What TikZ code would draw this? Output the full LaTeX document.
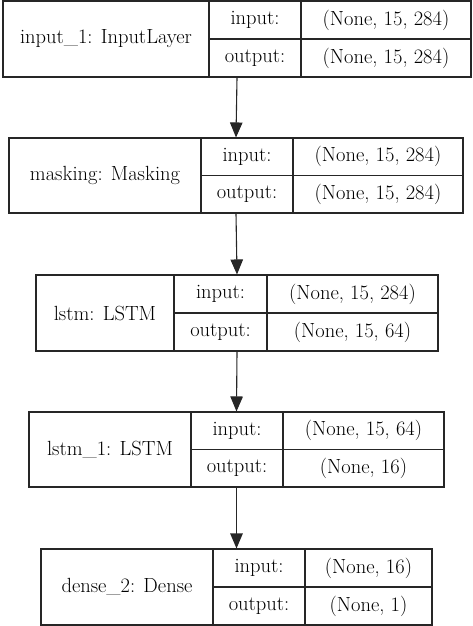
\documentclass[tikz,border=0pt]{standalone}
\usetikzlibrary{arrows.meta,fit}

% A Keras layer record: name | input:/output: | shapes
% #1 id, #2 left, #3 first divider, #4 second divider, #5 right,
% #6 top, #7 bottom, #8 layer label, #9 input shape; then {output shape}
\newcommand\keraslayer[9]{%
  \def\kid{#1}\def\kl{#2}\def\kda{#3}\def\kdb{#4}\def\kr{#5}%
  \def\kt{#6}\def\kb{#7}\def\klab{#8}\def\kin{#9}%
  \keraslayerfinish}
\newcommand\keraslayerfinish[1]{%
  \pgfmathsetmacro\km{(\kt+\kb)/2}%
  \coordinate (\kid-nw) at (\kl,\kt);
  \coordinate (\kid-se) at (\kr,\kb);
  \node[layerbox, fit=(\kid-nw)(\kid-se)] (\kid) {};
  \draw[cellline] (\kda,\kt) -- (\kda,\kb);
  \draw[cellline] (\kdb,\kt) -- (\kdb,\kb);
  \draw[cellline] (\kda,\km) -- (\kr,\km);
  \node[celltext] (\kid-label) at ({(\kl+\kda)/2},\km) {\klab};
  \node[celltext] (\kid-inkey) at ({(\kda+\kdb)/2},{(\kt+\km)/2}) {input:};
  \node[celltext] (\kid-outkey) at ({(\kda+\kdb)/2},{(\km+\kb)/2}) {output:};
  \node[celltext] (\kid-inval) at ({(\kdb+\kr)/2},{(\kt+\km)/2}) {\kin};
  \node[celltext] (\kid-outval) at ({(\kdb+\kr)/2},{(\km+\kb)/2}) {#1};
}

\begin{document}
\begin{tikzpicture}[x=1pt,y=-1pt,
  layerbox/.style={draw=black!85, line width=1.1pt, inner sep=0pt, fill=none},
  cellline/.style={draw=black!85, line width=1.1pt},
  celltext/.style={inner sep=0pt, font=\rmfamily\fontsize{20.5}{24}\selectfont},
  flow/.style={draw=black!85, line width=1.1pt,
    -{Triangle[length=15pt,width=12.5pt]}}]
\useasboundingbox (0,0) rectangle (472,626);

\keraslayer{l1}{3}{209}{301}{471}{1}{77}{input\_1: InputLayer}{(None, 15, 284)}{(None, 15, 284)}
\keraslayer{l2}{9}{201}{293}{463}{138}{213}{masking: Masking}{(None, 15, 284)}{(None, 15, 284)}
\keraslayer{l3}{36}{174}{267}{438}{275}{351}{lstm: LSTM}{(None, 15, 284)}{(None, 15, 64)}
\keraslayer{l4}{29}{191}{283}{444}{412}{487}{lstm\_1: LSTM}{(None, 15, 64)}{(None, 16)}
\keraslayer{l5}{41}{213}{305}{432}{549}{625}{dense\_2: Dense}{(None, 16)}{(None, 1)}

\draw[flow] (l1.south) -- (l2.north);
\draw[flow] (l2.south) -- (l3.north);
\draw[flow] (l3.south) -- (l4.north);
\draw[flow] (l4.south) -- (l5.north);
\end{tikzpicture}
\end{document}
